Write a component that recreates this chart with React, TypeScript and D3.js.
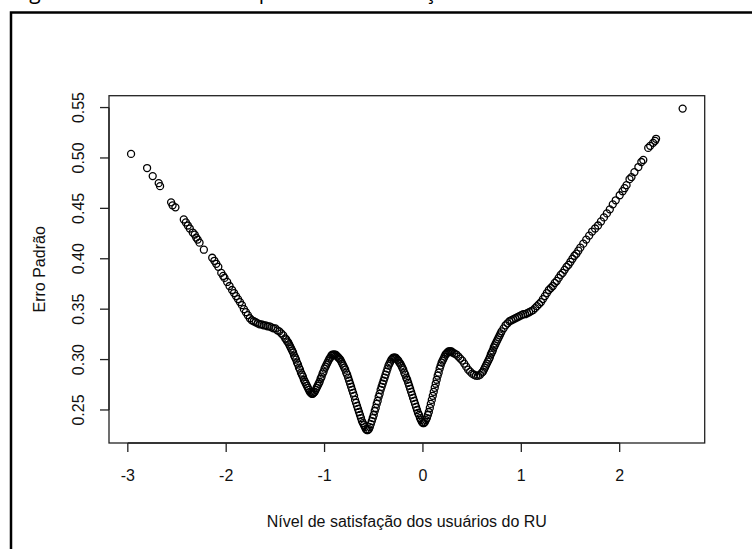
import React, { useEffect, useRef } from 'react';
import * as d3 from 'd3';

// pontos: [nível de satisfação (theta), erro padrão]
const ramoEsquerdo: [number, number][] = [
  [-2.967, 0.504], [-2.804, 0.490], [-2.747, 0.482], [-2.686, 0.475], [-2.672, 0.472],
  [-2.560, 0.456], [-2.545, 0.453], [-2.516, 0.451], [-2.431, 0.439], [-2.410, 0.436],
  [-2.390, 0.433], [-2.370, 0.430], [-2.340, 0.426], [-2.320, 0.424], [-2.305, 0.421],
  [-2.290, 0.419], [-2.271, 0.416], [-2.227, 0.409], [-2.142, 0.401], [-2.120, 0.398],
  [-2.101, 0.395], [-2.080, 0.392], [-2.050, 0.386], [-2.030, 0.383], [-2.017, 0.381],
  [-1.990, 0.377], [-1.966, 0.373],
];

const vale: [number, number][] = [
  [-1.94, 0.369], [-1.92, 0.366], [-1.90, 0.363], [-1.88, 0.360], [-1.86, 0.357],
  [-1.84, 0.354], [-1.82, 0.350], [-1.80, 0.347], [-1.78, 0.344], [-1.76, 0.341],
  [-1.74, 0.339], [-1.72, 0.338], [-1.70, 0.337], [-1.68, 0.336], [-1.66, 0.335],
  [-1.64, 0.335], [-1.62, 0.334], [-1.60, 0.334], [-1.58, 0.333], [-1.56, 0.333],
  [-1.54, 0.332], [-1.52, 0.331], [-1.50, 0.331], [-1.48, 0.329], [-1.46, 0.328],
  [-1.44, 0.326], [-1.42, 0.324], [-1.40, 0.321], [-1.39, 0.320], [-1.38, 0.318],
  [-1.37, 0.317], [-1.36, 0.315], [-1.35, 0.313], [-1.34, 0.311], [-1.33, 0.309],
  [-1.32, 0.307], [-1.31, 0.304], [-1.30, 0.302], [-1.29, 0.300], [-1.28, 0.297],
  [-1.27, 0.295], [-1.26, 0.292], [-1.25, 0.290], [-1.24, 0.287], [-1.23, 0.285],
  [-1.22, 0.283], [-1.21, 0.280], [-1.20, 0.278], [-1.19, 0.276], [-1.18, 0.274],
  [-1.17, 0.272], [-1.16, 0.270], [-1.15, 0.268], [-1.14, 0.267], [-1.13, 0.266],
  [-1.12, 0.266], [-1.11, 0.267], [-1.10, 0.268], [-1.09, 0.270], [-1.08, 0.272],
  [-1.07, 0.274], [-1.06, 0.276], [-1.05, 0.278], [-1.04, 0.281], [-1.03, 0.283],
  [-1.02, 0.286], [-1.01, 0.288], [-1.00, 0.291], [-0.99, 0.293], [-0.98, 0.295],
  [-0.97, 0.297], [-0.96, 0.299], [-0.95, 0.301], [-0.94, 0.302], [-0.93, 0.304],
  [-0.92, 0.305], [-0.91, 0.305], [-0.90, 0.305], [-0.89, 0.305], [-0.88, 0.304],
  [-0.87, 0.303], [-0.86, 0.302], [-0.85, 0.301], [-0.84, 0.300], [-0.83, 0.298],
  [-0.82, 0.296], [-0.81, 0.294], [-0.80, 0.292], [-0.79, 0.290], [-0.78, 0.287],
  [-0.77, 0.285], [-0.76, 0.282], [-0.75, 0.279], [-0.74, 0.276], [-0.73, 0.273],
  [-0.72, 0.270], [-0.71, 0.267], [-0.70, 0.264], [-0.69, 0.260], [-0.68, 0.257],
  [-0.67, 0.254], [-0.66, 0.251], [-0.65, 0.248], [-0.64, 0.245], [-0.63, 0.242],
  [-0.62, 0.239], [-0.61, 0.237], [-0.60, 0.235], [-0.59, 0.233], [-0.58, 0.231],
  [-0.57, 0.230], [-0.56, 0.230], [-0.55, 0.231], [-0.54, 0.233], [-0.53, 0.236],
  [-0.52, 0.239], [-0.51, 0.242], [-0.50, 0.245], [-0.49, 0.249], [-0.48, 0.252],
  [-0.47, 0.256], [-0.46, 0.259], [-0.45, 0.263], [-0.44, 0.266], [-0.43, 0.270],
  [-0.42, 0.273], [-0.41, 0.276], [-0.40, 0.279], [-0.39, 0.282], [-0.38, 0.285],
  [-0.37, 0.288], [-0.36, 0.291], [-0.35, 0.294], [-0.34, 0.296], [-0.33, 0.298],
  [-0.32, 0.300], [-0.31, 0.301], [-0.30, 0.302], [-0.29, 0.302], [-0.28, 0.302],
  [-0.27, 0.301], [-0.26, 0.300], [-0.25, 0.299], [-0.24, 0.297], [-0.23, 0.296],
  [-0.22, 0.294], [-0.21, 0.292], [-0.20, 0.290], [-0.19, 0.287], [-0.18, 0.285],
  [-0.17, 0.282], [-0.16, 0.280], [-0.15, 0.277], [-0.14, 0.274], [-0.13, 0.271],
  [-0.12, 0.268], [-0.11, 0.265], [-0.10, 0.262], [-0.09, 0.259], [-0.08, 0.256],
  [-0.07, 0.253], [-0.06, 0.250], [-0.05, 0.247], [-0.04, 0.245], [-0.03, 0.242],
  [-0.02, 0.240], [-0.01, 0.238], [0.00, 0.237], [0.01, 0.237], [0.02, 0.238],
  [0.03, 0.240], [0.04, 0.242], [0.05, 0.245], [0.06, 0.248], [0.07, 0.252],
  [0.08, 0.256], [0.09, 0.260], [0.10, 0.264], [0.11, 0.268], [0.12, 0.272],
  [0.13, 0.276], [0.14, 0.280], [0.15, 0.284], [0.16, 0.287], [0.17, 0.291],
  [0.18, 0.294], [0.19, 0.297], [0.20, 0.299], [0.21, 0.301], [0.22, 0.303],
  [0.23, 0.305], [0.24, 0.306], [0.25, 0.307], [0.26, 0.308], [0.27, 0.308],
  [0.28, 0.308], [0.29, 0.308], [0.30, 0.307], [0.32, 0.306], [0.34, 0.305],
  [0.36, 0.303], [0.38, 0.301], [0.40, 0.299], [0.42, 0.296], [0.44, 0.293],
  [0.46, 0.290], [0.48, 0.288], [0.50, 0.286], [0.52, 0.285], [0.54, 0.284],
  [0.56, 0.284], [0.58, 0.285], [0.60, 0.287], [0.61, 0.288], [0.62, 0.290],
  [0.63, 0.292], [0.64, 0.294], [0.65, 0.296], [0.66, 0.298], [0.67, 0.300],
  [0.68, 0.302], [0.69, 0.305], [0.70, 0.307], [0.71, 0.309], [0.72, 0.312],
  [0.73, 0.314], [0.74, 0.316], [0.75, 0.318], [0.76, 0.320], [0.77, 0.322],
  [0.78, 0.324], [0.79, 0.326], [0.80, 0.328], [0.82, 0.331], [0.84, 0.334],
  [0.86, 0.336], [0.88, 0.338], [0.90, 0.339], [0.92, 0.340], [0.94, 0.341],
  [0.96, 0.342], [0.98, 0.343], [1.00, 0.344], [1.02, 0.345], [1.04, 0.345],
  [1.06, 0.346], [1.08, 0.347], [1.10, 0.348], [1.12, 0.349], [1.14, 0.351],
  [1.16, 0.353], [1.18, 0.355], [1.20, 0.357], [1.22, 0.360], [1.24, 0.363],
  [1.26, 0.366], [1.28, 0.369], [1.30, 0.371],
];

const ramoDireito: [number, number][] = [
  [1.32, 0.373], [1.34, 0.376], [1.36, 0.378], [1.38, 0.381], [1.40, 0.384],
  [1.42, 0.386], [1.44, 0.389], [1.46, 0.392], [1.48, 0.394], [1.50, 0.397],
  [1.52, 0.400], [1.54, 0.403], [1.56, 0.405], [1.58, 0.408], [1.60, 0.411],
  [1.63, 0.415], [1.66, 0.419], [1.69, 0.423], [1.72, 0.427], [1.75, 0.430],
  [1.78, 0.433], [1.81, 0.437], [1.84, 0.441], [1.87, 0.445], [1.90, 0.449],
  [1.93, 0.454], [1.96, 0.458], [2.00, 0.463], [2.03, 0.467], [2.05, 0.470],
  [2.07, 0.473], [2.10, 0.479], [2.12, 0.481], [2.15, 0.486], [2.19, 0.491],
  [2.22, 0.496], [2.24, 0.498], [2.29, 0.510], [2.31, 0.512], [2.34, 0.515],
  [2.36, 0.517], [2.37, 0.519], [2.64, 0.549],
];

const xTicks = [-3, -2, -1, 0, 1, 2];
const yTicks = [0.25, 0.30, 0.35, 0.40, 0.45, 0.50, 0.55];

const tituloX = 'Nível de satisfação dos usuários do RU';
const tituloY = 'Erro Padrão';
const legenda = 'Figura 16 – Gráfico de dispersão da satisfação';

const App: React.FC = () => {
  const ref = useRef<HTMLDivElement>(null);

  useEffect(() => {
    const W = 752, H = 549;
    const box = { left: 109, right: 704.7, top: 95.7, bottom: 443 };
    const font = "'Liberation Sans', Arial, sans-serif";

    d3.select(ref.current).select('svg').remove();
    const svg = d3.select(ref.current)
      .append('svg')
      .attr('width', W)
      .attr('height', H)
      .style('position', 'absolute')
      .style('left', 0)
      .style('top', 0)
      .style('background', '#fff');

    // legenda da figura, cortada no topo (só as descendentes aparecem), e moldura
    svg.append('text')
      .attr('x', 13)
      .attr('y', -1)
      .attr('font-family', "'Open Sans', sans-serif")
      .attr('font-size', 21)
      .attr('fill', '#000')
      .text(legenda);
    svg.append('rect')
      .attr('x', 11)
      .attr('y', 12.5)
      .attr('width', 900)
      .attr('height', 700)
      .attr('fill', 'none')
      .attr('stroke', '#000')
      .attr('stroke-width', 2.5);

    const pontos = [...ramoEsquerdo, ...vale, ...ramoDireito];

    // como o R: 4% de folga em cada lado
    const [x0, x1] = d3.extent(pontos, d => d[0]) as [number, number];
    const [y0, y1] = d3.extent(pontos, d => d[1]) as [number, number];
    const dx = (x1 - x0) * 0.04, dy = (y1 - y0) * 0.04;
    const x = d3.scaleLinear().domain([x0 - dx, x1 + dx]).range([box.left, box.right]);
    const y = d3.scaleLinear().domain([y0 - dy, y1 + dy]).range([box.bottom, box.top]);

    const cor = '#222';

    svg.append('rect')
      .attr('x', box.left)
      .attr('y', box.top)
      .attr('width', box.right - box.left)
      .attr('height', box.bottom - box.top)
      .attr('fill', 'none')
      .attr('stroke', cor)
      .attr('stroke-width', 1.3);

    // eixo x
    const gx = svg.append('g');
    gx.append('line')
      .attr('x1', x(xTicks[0])).attr('x2', x(xTicks[xTicks.length - 1]))
      .attr('y1', box.bottom).attr('y2', box.bottom)
      .attr('stroke', cor).attr('stroke-width', 1.3);
    gx.selectAll('line.tick')
      .data(xTicks)
      .enter()
      .append('line')
      .attr('class', 'tick')
      .attr('x1', d => x(d)).attr('x2', d => x(d))
      .attr('y1', box.bottom).attr('y2', box.bottom + 9)
      .attr('stroke', cor).attr('stroke-width', 1.3);
    gx.selectAll('text')
      .data(xTicks)
      .enter()
      .append('text')
      .attr('x', d => x(d))
      .attr('y', 481)
      .attr('text-anchor', 'middle')
      .attr('font-family', font)
      .attr('font-size', 16)
      .attr('fill', '#111')
      .text(d => String(d));

    // eixo y
    const gy = svg.append('g');
    gy.append('line')
      .attr('x1', box.left).attr('x2', box.left)
      .attr('y1', y(yTicks[0])).attr('y2', y(yTicks[yTicks.length - 1]))
      .attr('stroke', cor).attr('stroke-width', 1.3);
    gy.selectAll('line.tick')
      .data(yTicks)
      .enter()
      .append('line')
      .attr('class', 'tick')
      .attr('x1', box.left - 9).attr('x2', box.left)
      .attr('y1', d => y(d)).attr('y2', d => y(d))
      .attr('stroke', cor).attr('stroke-width', 1.3);
    gy.selectAll('text')
      .data(yTicks)
      .enter()
      .append('text')
      .attr('transform', d => `translate(84,${y(d)}) rotate(-90)`)
      .attr('text-anchor', 'middle')
      .attr('font-family', font)
      .attr('font-size', 16)
      .attr('fill', '#111')
      .text(d => d.toFixed(2));

    // títulos
    svg.append('text')
      .attr('x', (box.left + box.right) / 2)
      .attr('y', 527)
      .attr('text-anchor', 'middle')
      .attr('font-family', font)
      .attr('font-size', 16)
      .attr('fill', '#111')
      .text(tituloX);
    svg.append('text')
      .attr('transform', `translate(45,${(box.top + box.bottom) / 2}) rotate(-90)`)
      .attr('text-anchor', 'middle')
      .attr('font-family', font)
      .attr('font-size', 16)
      .attr('fill', '#111')
      .text(tituloY);

    // pontos (pch = 1)
    svg.append('g')
      .selectAll('circle')
      .data(pontos)
      .enter()
      .append('circle')
      .attr('cx', d => x(d[0]))
      .attr('cy', d => y(d[1]))
      .attr('r', 3.5)
      .attr('fill', 'none')
      .attr('stroke', '#000')
      .attr('stroke-width', 1.3);
  }, []);

  return <div ref={ref} />;
};

export default App;
